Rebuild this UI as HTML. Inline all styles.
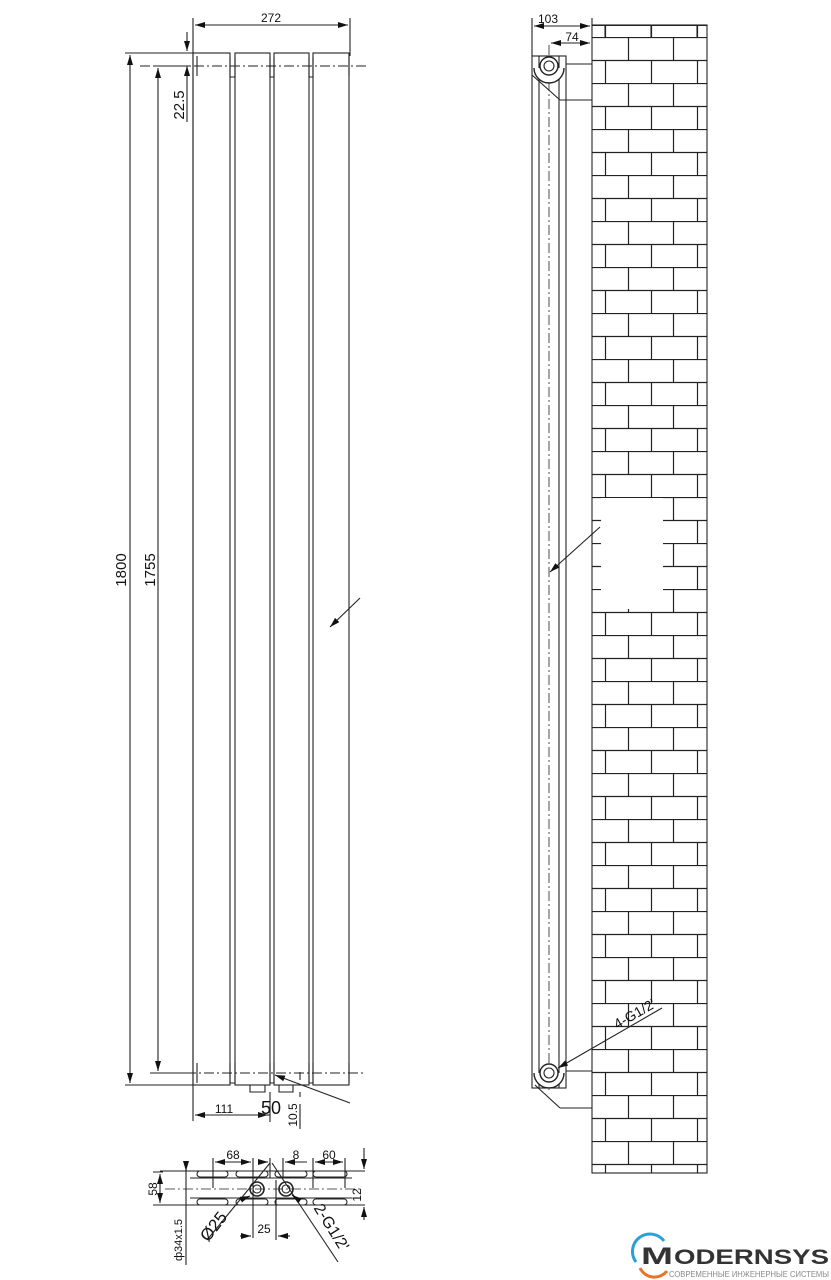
<!DOCTYPE html>
<html><head><meta charset="utf-8"><style>
html,body{margin:0;padding:0;background:#fff;}
svg{display:block;}
text{font-family:"Liberation Sans",sans-serif;fill:#111;}
</style></head><body>
<svg width="831" height="1280" viewBox="0 0 831 1280" xmlns="http://www.w3.org/2000/svg">
<defs>
<marker id="a" viewBox="0 0 10 6" refX="10" refY="3" markerWidth="10" markerHeight="6" orient="auto-start-reverse" markerUnits="userSpaceOnUse"><path d="M0,0L10,3L0,6z" fill="#111"/></marker>
<pattern id="br" x="592" y="37" width="92" height="46" patternUnits="userSpaceOnUse">
<rect width="92" height="46" fill="#fff"/>
<path d="M0,0.5H92M0,23.5H92M36.5,0V23M81.5,0V23M13.5,23V46M59.5,23V46" stroke="#222" stroke-width="1.2" fill="none"/>
</pattern>
</defs>
<g stroke="#222" stroke-width="1.1" fill="none">
<rect x="193" y="53" width="37" height="1032" fill="#fff"/>
<rect x="235" y="53" width="35" height="1032" fill="#fff"/>
<rect x="274" y="53" width="35" height="1032" fill="#fff"/>
<rect x="313" y="53" width="36" height="1032" fill="#fff"/>
<path d="M193,53v1032M197,56v20M230,57v20h5v-20M270,57v20h4v-20M309,57v20h4v-20M349,56v20M197,1063v20M230,1063v20h5v-20M270,1063v20h4v-20M309,1063v20h4v-20M349,1063v20"/>
<path d="M140,66H368M150,1073H365" stroke-dasharray="10,3,2,3" stroke-width="0.9"/>
<path d="M250,1085v7h15v-7M279,1085v7h14v-7"/>
<path d="M193,18v35M350,18v38"/>
<path d="M195,25H348" marker-start="url(#a)" marker-end="url(#a)"/>
<path d="M125,53H193M153,66H190M125,1085H193M153,1073H190"/>
<path d="M130,55V1083" marker-start="url(#a)" marker-end="url(#a)"/>
<path d="M158,68V1071" marker-start="url(#a)" marker-end="url(#a)"/>
<path d="M187,32V51" marker-end="url(#a)"/><path d="M187,66V122" marker-start="url(#a)"/>
<path d="M360,598L330,627" marker-end="url(#a)"/>
<path d="M193,1085v36M270,1092v30M300,1092v5"/>
<path d="M195,1115H268" marker-start="url(#a)" marker-end="url(#a)"/>
<path d="M258,1115h12"/>
<path d="M300,1080v-8M300,1104v25"/>
<path d="M350,1103L275,1075" marker-end="url(#a)"/>
<path d="M200,1085h-35"/>
<path d="M160,1171H365M160,1205H365M190,1178H352M190,1198H352"/>
<path d="M165,1189H360" stroke-dasharray="10,3,2,3" stroke-width="0.8"/>
<rect x="197" y="1171" width="31" height="6" rx="3"/><rect x="236" y="1171" width="32" height="6" rx="3"/><rect x="275" y="1171" width="32" height="6" rx="3"/><rect x="313" y="1171" width="34" height="6" rx="3"/>
<rect x="197" y="1199" width="31" height="6" rx="3"/><rect x="236" y="1199" width="32" height="6" rx="3"/><rect x="275" y="1199" width="32" height="6" rx="3"/><rect x="313" y="1199" width="34" height="6" rx="3"/>
<circle cx="257" cy="1189" r="7" stroke-width="1.6"/><circle cx="257" cy="1189" r="4"/>
<circle cx="286" cy="1189" r="7" stroke-width="1.6"/><circle cx="286" cy="1189" r="4"/>
<path d="M213,1158v30M253,1158v80M313,1158v30M345,1158v30M270,1158v20M283,1158v20M276,1180v60"/>
<path d="M215,1162H251" marker-start="url(#a)" marker-end="url(#a)"/>
<path d="M258,1162h10" marker-end="url(#a)"/><path d="M285,1162h22" marker-start="url(#a)"/>
<path d="M315,1162H343" marker-start="url(#a)" marker-end="url(#a)"/>
<path d="M160,1174V1203" marker-start="url(#a)" marker-end="url(#a)"/>
<path d="M153,1172h10M153,1205h10"/>
<path d="M186,1163V1265" /><path d="M186,1165v6" marker-end="url(#a)"/>
<path d="M364,1148V1169" marker-end="url(#a)"/><path d="M364,1207V1220" marker-start="url(#a)"/>
<path d="M240,1236H251" marker-end="url(#a)"/><path d="M278,1236H290" marker-start="url(#a)"/>
<path d="M207,1240L270,1163" /><path d="M240,1200L250,1196" marker-end="url(#a)"/>
<path d="M338,1262L272,1163"/><path d="M296,1198L292,1195" marker-end="url(#a)"/>
<rect x="592" y="25" width="115" height="1148" fill="url(#br)" stroke="none"/>
<path d="M592,25.5H707M605,25V37M651,25V37M697,25V37"/>
<rect x="601" y="498" width="62" height="111" fill="#fff" stroke="none"/>
<rect x="592" y="25" width="115" height="1148"/>
<rect x="532" y="56" width="34" height="1032" fill="#fff"/>
<path d="M539,56V1088M559,56V1088"/>
<path d="M549,45V1090" stroke-dasharray="10,3,2,3" stroke-width="0.8"/>
<path d="M566,64H592M560,100H592M532,75L560,100"/>
<path d="M566,1071H592M560,1108H592M535,1085L560,1108"/>
<path d="M534,68a15,15 0 0 0 30,0" stroke-width="1.4" fill="#fff"/>
<circle cx="549" cy="66" r="9" fill="#fff" stroke-width="1.4"/><circle cx="549" cy="66" r="5"/>
<path d="M534,1073a15,15 0 0 0 30,0" stroke-width="1.4" fill="#fff"/>
<circle cx="549" cy="1073" r="9" fill="#fff" stroke-width="1.4"/><circle cx="549" cy="1073" r="5"/>
<path d="M532,18v38M592,18v8"/>
<path d="M534,26H590" marker-start="url(#a)" marker-end="url(#a)"/>
<path d="M551,43H590" marker-start="url(#a)" marker-end="url(#a)"/>
<path d="M600,527L550,572" marker-end="url(#a)"/>
<path d="M662,1008L558,1068" marker-end="url(#a)"/>
</g>
<text x="271" y="22" font-size="12" text-anchor="middle">272</text>
<text x="548" y="23" font-size="12" text-anchor="middle">103</text>
<text x="572" y="41" font-size="12" text-anchor="middle">74</text>
<text transform="translate(126,570) rotate(-90)" font-size="15" text-anchor="middle">1800</text>
<text transform="translate(155,570) rotate(-90)" font-size="15" text-anchor="middle">1755</text>
<text transform="translate(184,105) rotate(-90)" font-size="15" text-anchor="middle">22.5</text>
<text x="224" y="1113" font-size="12" text-anchor="middle">111</text>
<text x="271" y="1114" font-size="18" text-anchor="middle">50</text>
<text transform="translate(297,1115) rotate(-90)" font-size="12" text-anchor="middle">10.5</text>
<text x="233" y="1159" font-size="12" text-anchor="middle">68</text>
<text x="296" y="1159" font-size="12" text-anchor="middle">8</text>
<text x="329" y="1159" font-size="12" text-anchor="middle">60</text>
<text transform="translate(157,1189) rotate(-90)" font-size="12" text-anchor="middle">58</text>
<text transform="translate(361,1195) rotate(-90)" font-size="12" text-anchor="middle">12</text>
<text transform="translate(182,1240) rotate(-90)" font-size="11" text-anchor="middle">ф34х1.5</text>
<text transform="translate(218,1230) rotate(-52)" font-size="17" text-anchor="middle">Ø25</text>
<text x="264" y="1233" font-size="12" text-anchor="middle">25</text>
<text transform="translate(327,1230) rotate(58)" font-size="16" text-anchor="middle">2-G1/2'</text>
<text transform="translate(637,1018) rotate(-30)" font-size="14" text-anchor="middle">4-G1/2'</text>
<path d="M636,1262 A16,16 0 0 1 664,1241" stroke="#2a9fd8" stroke-width="3" fill="none"/>
<path d="M640,1268 A16,16 0 0 0 667,1271" stroke="#e8742a" stroke-width="3" fill="none"/>
<text x="641" y="1264" font-size="24" font-weight="bold" textLength="32" lengthAdjust="spacingAndGlyphs" style="fill:#333">M</text>
<text x="674" y="1264" font-size="21" font-weight="bold" textLength="155" lengthAdjust="spacingAndGlyphs" style="fill:#333">ODERNSYS</text>
<text x="669" y="1277" font-size="8" textLength="160" lengthAdjust="spacingAndGlyphs" style="fill:#888">СОВРЕМЕННЫЕ ИНЖЕНЕРНЫЕ СИСТЕМЫ</text>
</svg>
</body></html>
